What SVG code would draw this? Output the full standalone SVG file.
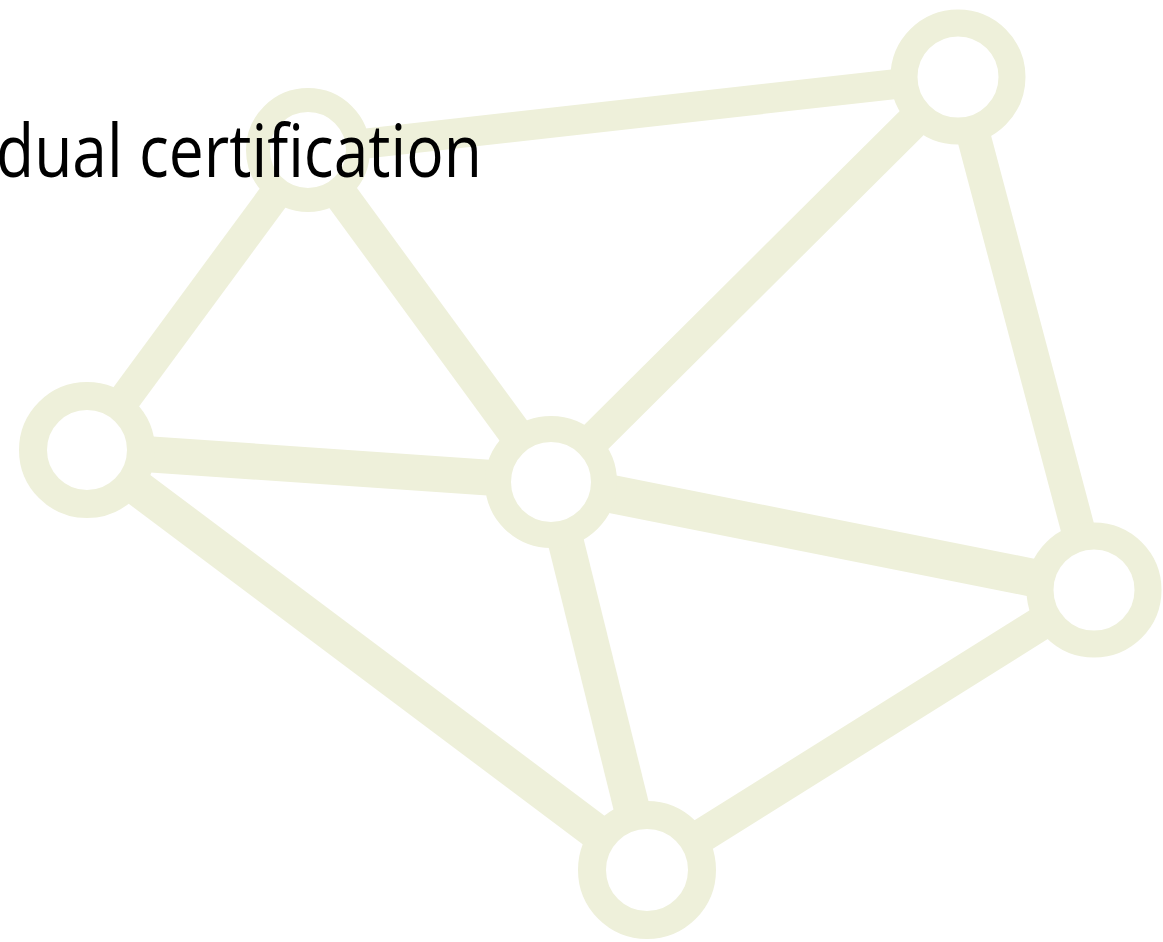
<svg xmlns="http://www.w3.org/2000/svg" width="1163" height="942" viewBox="0 0 1163 942">
  <style>
    .edge { stroke: #EEF0DA; stroke-linecap: butt; fill: none; }
    .ring { stroke: #EEF0DA; fill: #FFFFFF; }
    .title { font-family: "Open Sans", "Noto Sans", "Liberation Sans", sans-serif; fill: #000000; }
  </style>
  <rect x="0" y="0" width="1163" height="942" fill="#FFFFFF"/>
  <g id="connectors">
    <line class="edge" x1="362.7" y1="143.9" x2="897.4" y2="83.8" stroke-width="30"/>
    <line class="edge" x1="275.4" y1="194.3" x2="123.2" y2="400.9" stroke-width="32"/>
    <line class="edge" x1="340.5" y1="194.4" x2="516.1" y2="434.4" stroke-width="34"/>
    <line class="edge" x1="147.9" y1="454.2" x2="492.1" y2="477.9" stroke-width="36"/>
    <line class="edge" x1="135.8" y1="486.6" x2="597.4" y2="832.8" stroke-width="36"/>
    <line class="edge" x1="592.8" y1="440.4" x2="914.8" y2="120.0" stroke-width="34"/>
    <line class="edge" x1="608.9" y1="493.5" x2="1034.2" y2="578.1" stroke-width="38"/>
    <line class="edge" x1="565.2" y1="539.3" x2="632.1" y2="809.8" stroke-width="36"/>
    <line class="edge" x1="973.6" y1="136.0" x2="1078.4" y2="531.0" stroke-width="34"/>
    <line class="edge" x1="1042.3" y1="622.4" x2="699.5" y2="837.1" stroke-width="34"/>
  </g>
  <g id="node-a"><circle class="ring" cx="308" cy="150" r="50" stroke-width="24"/></g>
  <g id="node-b"><circle class="ring" cx="87" cy="450" r="54" stroke-width="28"/></g>
  <g id="node-c"><circle class="ring" cx="551" cy="482" r="53" stroke-width="26"/></g>
  <g id="node-d"><circle class="ring" cx="958" cy="77" r="54" stroke-width="27"/></g>
  <g id="node-e"><circle class="ring" cx="1094" cy="590" r="54" stroke-width="27"/></g>
  <g id="node-f"><circle class="ring" cx="647" cy="870" r="55" stroke-width="28"/></g>
  <g id="title">
    <text class="title" x="-4" y="177" font-size="74" textLength="486" lengthAdjust="spacingAndGlyphs">dual certification</text>
  </g>
</svg>
